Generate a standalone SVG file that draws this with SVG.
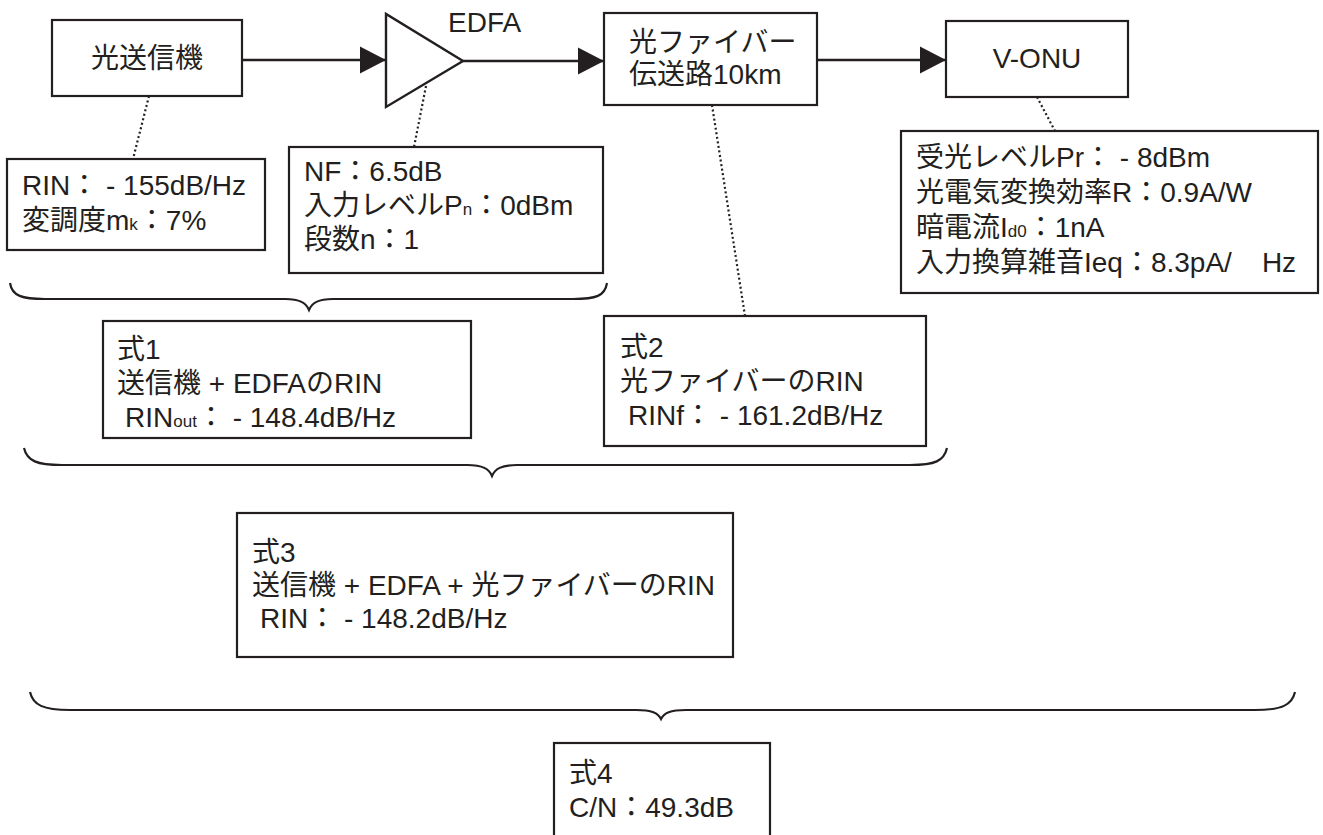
<svg xmlns="http://www.w3.org/2000/svg" width="1323" height="835" viewBox="0 0 1323 835">
<defs>
<style>
text{font-family:"Liberation Sans","Noto Sans CJK JP",sans-serif;font-size:28px;fill:#231f20}
.lbl{font-size:28px}
.box{fill:#fff;stroke:#231f20;stroke-width:2.2}
.flow{stroke:#231f20;stroke-width:2.6;fill:none}
.dot{stroke:#231f20;stroke-width:2.2;stroke-dasharray:2 2.6;fill:none}
.brace{stroke:#231f20;stroke-width:2.2;fill:none}
.sub{font-size:17px}
</style>
<marker id="ah" markerUnits="userSpaceOnUse" markerWidth="27" markerHeight="28" refX="26" refY="14" orient="auto">
<path d="M0,0.5 L26,14 L0,27.5 z" fill="#231f20"/>
</marker>
</defs>
<rect width="1323" height="835" fill="#fff"/>

<g id="connectors">
<line class="flow" x1="242" y1="60" x2="386" y2="60" marker-end="url(#ah)"/>
<line class="flow" x1="463" y1="61" x2="604" y2="61" marker-end="url(#ah)"/>
<line class="flow" x1="817" y1="60" x2="946" y2="60" marker-end="url(#ah)"/>
<line class="dot" x1="149" y1="96" x2="133" y2="159"/>
<line class="dot" x1="426" y1="86" x2="414" y2="147"/>
<line class="dot" x1="712" y1="105" x2="745" y2="316"/>
<line class="dot" x1="1037" y1="97" x2="1055" y2="131"/>
<path class="brace" d="M10,283 C12,296 22,299 45,299 L285,299 C300,299 306,303 309,310 C312,303 318,299 333,299 L573,299 C596,299 605,296 607,283"/>
<path class="brace" d="M24,448 C27,461 37,465 62,465 L467,465 C483,465 489,469 492,476 C495,469 501,465 517,465 L910,465 C935,465 944,461 947,448"/>
<path class="brace" d="M30,692 C33,705 43,710 70,710 L636,710 C652,710 658,713 661,719 C664,713 670,710 686,710 L1255,710 C1282,710 1292,705 1295,692"/>
</g>

<g id="tx">
<rect class="box" x="52" y="20" width="190" height="76"/>
<text class="lbl" x="147" y="68" text-anchor="middle">光送信機</text>
</g>

<g id="edfa">
<polygon points="386,14 386,107 463,61" fill="#fff" stroke="#231f20" stroke-width="2.4" stroke-linejoin="miter"/>
<text x="448" y="32">EDFA</text>
</g>

<g id="fiber">
<rect class="box" x="604" y="13" width="213" height="92"/>
<text class="lbl" x="629" y="52">光ファイバー</text>
<text class="lbl" x="629" y="84">伝送路10km</text>
</g>

<g id="vonu">
<rect class="box" x="946" y="21" width="182" height="76"/>
<text class="lbl" x="1037" y="68" text-anchor="middle">V-ONU</text>
</g>

<g id="tx-params">
<rect class="box" x="7" y="159" width="258" height="91"/>
<text x="22" y="195">RIN： - 155dB/Hz</text>
<text x="22" y="230">変調度m<tspan class="sub">k</tspan>：7%</text>
</g>

<g id="edfa-params">
<rect class="box" x="289" y="147" width="314" height="126"/>
<text x="304" y="181">NF：6.5dB</text>
<text x="304" y="215">入力レベルP<tspan class="sub">n</tspan>：0dBm</text>
<text x="304" y="249">段数n：1</text>
</g>

<g id="vonu-params">
<rect class="box" x="901" y="131" width="417" height="162"/>
<text x="916" y="167">受光レベルPr： - 8dBm</text>
<text x="916" y="202">光電気変換効率R：0.9A/W</text>
<text x="916" y="237">暗電流I<tspan class="sub">d0</tspan>：1nA</text>
<text x="916" y="272">入力換算雑音Ieq：8.3pA/<tspan dx="30">Hz</tspan></text>
</g>

<g id="eq1">
<rect class="box" x="103" y="321" width="368" height="117"/>
<text x="117" y="359">式1</text>
<text x="117" y="393">送信機 + EDFAのRIN</text>
<text x="125" y="427">RIN<tspan class="sub">out</tspan>： - 148.4dB/Hz</text>
</g>

<g id="eq2">
<rect class="box" x="604" y="316" width="322" height="130"/>
<text x="620" y="357">式2</text>
<text x="620" y="391">光ファイバーのRIN</text>
<text x="628" y="425">RINf： - 161.2dB/Hz</text>
</g>

<g id="eq3">
<rect class="box" x="237" y="513" width="496" height="144"/>
<text x="252" y="562">式3</text>
<text x="252" y="595">送信機 + EDFA + 光ファイバーのRIN</text>
<text x="260" y="628">RIN： - 148.2dB/Hz</text>
</g>

<g id="eq4">
<rect class="box" x="554" y="743" width="216" height="100"/>
<text x="569" y="783">式4</text>
<text x="569" y="817">C/N：49.3dB</text>
</g>
</svg>
